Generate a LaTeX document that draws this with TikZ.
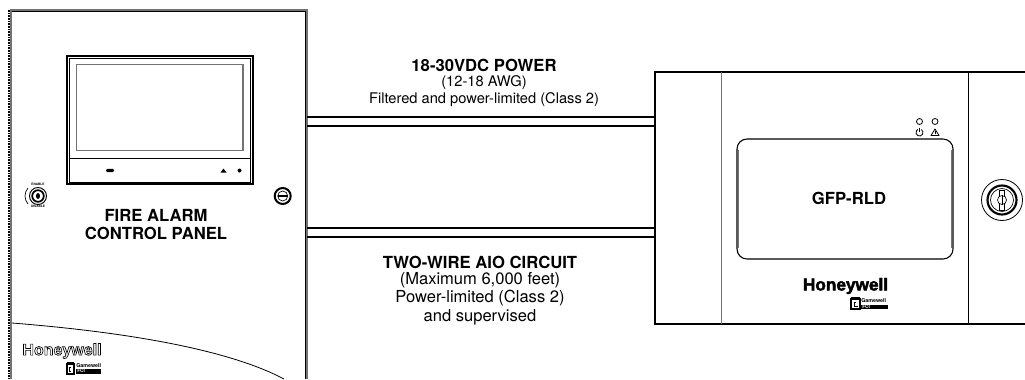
\documentclass[tikz,border=0pt]{standalone}
\usepackage{fontspec}
\setmainfont{TeX Gyre Heros}
\newfontfamily\logofont[FakeBold=2.5]{Liberation Sans Bold}
\newfontfamily\logooutline[FakeBold=4]{Liberation Sans Bold}
\newcommand{\psz}[2]{\fontsize{#1pt}{#2pt}\selectfont}
\tikzset{
  x=0.75pt,y=-0.75pt,
  line/.style={draw=black,line width=0.8pt},
  thinl/.style={draw=black,line width=0.5pt},
  grayl/.style={draw=black!55,line width=0.8pt},
  wire/.style={draw=black,line width=0.9pt},
  title/.style={align=center,inner sep=0pt,font=\psz{12.5}{14}\bfseries},
  tiny/.style={inner sep=0pt,font=\psz{2.4}{3}\bfseries},
}
\begin{document}
\begin{tikzpicture}
\useasboundingbox (0,0) rectangle (1025,379);
% --- left panel
\draw[line,line width=1pt,dash pattern=on 1.2pt off 0.8pt] (9,10) -- (9,379);
\draw[grayl,line width=1pt] (11,379) -- (11,10) -- (307,10) -- (307,379);
\draw[thinl] (12,11.5) -- (305.5,11.5) -- (305.5,379);
\coordinate (pa) at (307,117);
\coordinate (pb) at (307,126);
\coordinate (pc) at (307,228);
\coordinate (pd) at (307,237);
% screen
\draw[line,line width=1.5pt] (67,56) rectangle (252.5,184);
\draw[thinl] (69,58) rectangle (250.5,182);
\draw[grayl,line width=1pt] (76.5,64.5) rectangle (243,150.5);
\draw[line,line width=0.9pt] (69,158.7) -- (250.5,158.7);
\fill[rounded corners=1pt] (106,168.8) rectangle (114,172.2);
\fill (223.5,168.5) -- (226.5,172.5) -- (220.5,172.5) -- cycle;
\fill (239.5,170.5) circle (2);
% key switch left
\draw[line,line width=0.7pt] (38,196) circle (8.5);
\draw[line,line width=1.3pt] (38,196) circle (5.8);
\fill (38,196) ellipse (2 and 3);
\draw[thinl] (28,188) .. controls (24,193) and (24,199) .. (28,204);
\node[tiny] (enable) at (38,184) {ENABLE};
\node[tiny] (disable) at (38,206.5) {DISABLE};
% lock
\draw[line,line width=1.5pt] (282.7,196) circle (8);
\draw[thinl] (282.7,196) circle (5);
\fill (278,195) rectangle (287.5,197);
\node[title] (fire) at (156,224.5) {FIRE ALARM\\CONTROL PANEL};
\draw[thinl,line width=0.6pt] (12,323) .. controls (100,330) and (220,345) .. (284,379);
\node[inner sep=0pt,font=\psz{12}{12}\logooutline] (hwl) at (62,351) {\special{pdf:bc [1] [0]}Honeywell\special{pdf:ec}};
% gamewell left
\draw[thinl,line width=0.8pt] (67,364) rectangle (74,374);
\fill (67,362) rectangle (74,364);
\draw[thinl] (71,367) -- (69,367) -- (69,371) -- (71,371);
\node[inner sep=0pt,anchor=west,font=\psz{4}{4}\bfseries] (gl) at (76,365.7) {Gamewell};
\fill (76,369) rectangle (101,373.5);
\node[inner sep=0pt,anchor=west,text=white,font=\psz{3.6}{4}\bfseries] (fl) at (77,371.2) {FCI};
% --- right box
\draw[line,line width=1.1pt] (1025,72) -- (655,72) -- (655,324) -- (1025,324);
\draw[grayl,line width=0.9pt] (721.7,72) -- (721.7,324);
\draw[line,line width=0.7pt] (968.3,72) -- (968.3,324);
\coordinate (ra) at (655,117);
\coordinate (rb) at (655,126);
\coordinate (rc) at (655,228);
\coordinate (rd) at (655,237);
\draw[wire] (pa) -- (ra);
\draw[wire] (pb) -- (rb);
\draw[wire] (pc) -- (rc);
\draw[wire] (pd) -- (rd);
\draw[line,line width=0.8pt,rounded corners=7.5pt] (737,139) rectangle (953,259);
\draw[grayl,line width=0.5pt] (738.8,150) -- (738.8,248);
\draw[grayl,line width=0.5pt] (951.2,150) -- (951.2,248);
\node[title] (gfp) at (849,198.5) {GFP-RLD};
\draw[line,line width=0.6pt] (919.5,121.5) circle (3);
\draw[line,line width=0.6pt] (935,121.5) circle (3);
\draw[line,line width=0.6pt] (921.25,129.5) arc[start angle=300,end angle=600,radius=3.5];
\draw[line,line width=0.6pt] (919.5,127.8) -- (919.5,132);
\draw[line,line width=0.6pt,line join=round] (935,129) -- (939,135.5) -- (931,135.5) -- cycle;
\fill (934.7,131) rectangle (935.3,134);
\node[inner sep=0pt,font=\psz{12.9}{12}\logofont] (hwr) at (845.5,286) {Honeywell};
\draw[thinl,line width=0.9pt] (851,299) rectangle (860,309);
\fill (851,297) rectangle (860,299);
\draw[thinl] (856,302) -- (854,302) -- (854,306) -- (858,306);
\node[inner sep=0pt,anchor=west,font=\psz{4}{4}\bfseries] (gr) at (861,301) {Gamewell};
\fill (861,304.5) rectangle (888,309);
\node[inner sep=0pt,anchor=west,text=white,font=\psz{3.6}{4}\bfseries] (fr) at (862,306.8) {FCI};
% key
\draw[line,line width=0.6pt] (1002,200) circle (20.5);
\draw[line,line width=1.6pt] (1002,200) circle (14.5);
\draw[thinl] (1002,200) circle (11.5);
\draw[line,fill=white,line width=0.6pt] (999.5,190) rectangle (1004.5,210);
\draw[thinl,fill=white] (1002,200) circle (4.5);
\draw[thinl] (1002,195) -- (1002,205);
% --- labels
\node[title] (t1) at (484,65.5) {18-30VDC POWER};
\node[inner sep=0pt,align=center,font=\psz{11}{12.8}] (t2) at (484,91.5) {(12-18 AWG)\\Filtered and power-limited (Class 2)};
\node[title] (t3) at (480,262) {TWO-WIRE AIO CIRCUIT};
\node[inner sep=0pt,align=center,font=\psz{12.4}{14}] (t4) at (480,298.5) {(Maximum 6,000 feet)\\Power-limited (Class 2)\\and supervised};
\end{tikzpicture}
\end{document}
